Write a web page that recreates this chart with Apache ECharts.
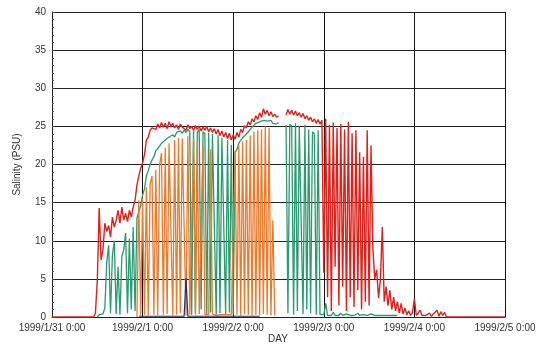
<!DOCTYPE html>
<html>
<head>
  <meta charset="utf-8">
  <title>salinity</title>
  <script src="https://cdn.jsdelivr.net/npm/echarts@6/dist/echarts.min.js"></script>
</head>
<body style="margin: 0">
<div id="main" style="width: 539px; height: 345px"></div>

<script type="text/javascript">
  // hours from 1999/1/31 0:00, one sample every half hour
  var STEP = 0.5;
  var dayLabels = ['1999/1/31 0:00', '1999/2/1 0:00', '1999/2/2 0:00', '1999/2/3 0:00', '1999/2/4 0:00', '1999/2/5 0:00'];

  var redStart = 0;
  var redValues = [
    0,0,0,0,0,0,0,0,0,0,0,0,0,0,0,0,0,0,0,0,0,0,0,0.5,4.8,
    14.3,7.5,8.8,12.3,11.2,12,10.5,13.1,11.8,12.7,14,12.3,14.4,12.7,13.6,12.5,14,13.1,14.4,15.3,
    17.3,18.5,19.5,20.2,21.3,23.2,23.6,24.5,24.8,25,24.6,25.3,24.8,25.5,24.9,25.4,24.7,25.6,25,
    25.4,24.8,25.2,24.6,25.3,24.9,25.1,24.5,25.2,24.7,25,24.5,25.1,24.6,25,24.4,24.9,24.5,25,
    24.3,24.8,24.2,24.7,24,24.6,23.8,24.4,23.6,24.2,23.4,24.1,23.2,23.9,23.3,24.2,23.6,24.6,
    24.2,25.1,24.8,25.6,25.2,26,25.6,26.4,25.9,26.8,26.2,27.3,26.6,27.1,26.4,26.9,26.3,26.6,
    26.2,26.4,null,null,null,26.5,27.2,26.6,27.1,26.5,27,26.4,26.8,26.2,26.7,26,26.4,25.8,26.2,
    25.6,26,25.4,25.9,25.3,
    25.8,5.8,26,2.6,25.2,0.8,25.5,6.6,24.8,1.5,25.3,4,24.6,0.8,25.6,2.6,24.1,1.3,24.5,3.5,21.6,
    1,21,2,24.5,1.5,22.5,
    9,5,6.2,2.5,5,11.8,2,4,1.5,3.5,1,2.6,0.8,2,0.5,1.8,0.4,1.2,0.3,0.8,0.2,0.6,2.4,0.2,0.5,0.9,
    0.2,0.4,0.2,0.3,0.5,0.1,0.4,0.2,0.9,0.1,0.7,0.2,0.6,
    0,0,0,0,0,0,0,0,0,0,0,0,0,0,0,0,0,0,0,0,0,0,0,0,0,0,0,0,0,0,0,0
  ];

  var greenStart = 24;
  var greenValues = [
    0,0.3,0.5,0.4,1.2,7.2,9.4,0.5,8.1,10,0.4,6.6,0.3,7.9,8.8,11,0.5,10.3,1,11.8,0.8,
    13,13.8,14.6,16,16.8,18.5,19.2,20,20.6,21,21.8,22,22.4,22.8,22.6,23.2,23,23.6,23.4,23.9,
    23.6,24.2,24,24.4,24.1,24.5,24.2,24.6,24.3,0.3,24.5,0.5,24.2,24.6,1,24.3,24,0.4,24.2,0.6,
    24,23.8,0.3,23.9,0.5,23.5,23.7,0.4,23.2,0.6,22.6,0.3,21.5,22,22.8,23.2,23.5,23.6,24,24.3,
    24.5,24.9,25.1,25.4,25.2,25.6,25.4,25.8,25.6,25.7,25.5,25.8,25.4,25.6,25.3,25.5,
    null,null,null,
    25.2,0.5,25.3,25,0.3,25.4,0.8,25,24.8,0.4,25.2,1,24.6,0.5,24.3,24,0.3,24.5,0.3,
    0.5,0.3,1.8,0.2,0.3,0.2,0.6,0.2,0.3,0.2,0.5,0.2,0.2,0.4,0.2,0.2,0.3,0.2,0.2,0.5,0.2,0.2,
    0.3,0.2,0.2,0.2,0.4,0.2,0.2,0.2,0.2,0.3,0.2,0.2,0.2,0.2,0.2,0.2,0.2,0.2,0.2
  ];

  var orangeStart = 45;
  var orangeValues = [
    0,15.3,0.2,15.5,0.3,17,0.2,17.5,18.5,0.3,19.3,0.2,20,21.5,0.3,22.2,0.4,22.8,23,0.2,23.2,
    0.3,23.5,0.5,23.4,23.6,0.2,23.7,0.3,0.2,23.5,0.3,23,0.4,0.3,22.5,0.3,0.2,0.3,22,0.4,0.3,
    0.2,0.3,0.3,0.4,0.3,0.2,0.3,0.2,0.3,0.2,21.8,0.3,22.5,0.2,23,0.4,23.2,0.3,23.8,0.2,24.3,
    0.3,24.5,0.2,24.6,0.4,25,0.3,24.8,0.2,12.7,0.2
  ];

  var blueStart = 46;
  var blueValues = [
    0.1,0.1,0.1,0.1,0.1,0.1,0.1,0.1,0.1,0.1,0.1,0.1,0.1,0.1,0.1,0.1,0.1,0.1,0.1,0.1,0.1,0.1,
    0.1,0.1,0.1,5.1,0.1,0.1,0.1,0.1,0.1,0.1,0.1,0.1,0.1,0.1,0.1,0.1,0.1,0.1,0.1,0.1,0.1,0.1,
    0.1,0.1,0.1,0.1,0.1,0.1,0.1,0.1,0.1,0.1,0.1,0.1,0.1,0.1,0.1,0.1,0.1,0.1,0.1,0.1,0.1
  ];

  function toPairs(start, values) {
    return values.map(function (v, k) {
      return [(start + k) * STEP, v];
    });
  }

  function lineSeries(name, color, start, values, width) {
    return {
      name: name,
      type: 'line',
      data: toPairs(start, values),
      showSymbol: false,
      connectNulls: false,
      animation: false,
      lineStyle: {color: color, width: width},
      itemStyle: {color: color}
    };
  }

  var chart = echarts.init(document.getElementById('main'));
  chart.setOption({
    animation: false,
    grid: {left: 52, right: 34, top: 12, bottom: 28, outerBoundsMode: 'none'},
    // x axis title drawn as plain text just under the tick labels
    graphic: [{
      type: 'text',
      left: 268,
      top: 334,
      style: {text: 'DAY', fontFamily: 'Liberation Sans', fontSize: 10, fill: '#333'}
    }],
    xAxis: {
      type: 'value',
      min: 0,
      max: 120,
      interval: 24,
      axisLine: {lineStyle: {color: '#222'}},
      axisTick: {show: false},
      axisLabel: {
        margin: 6,
        fontFamily: 'Liberation Sans',
        fontSize: 10,
        color: '#333',
        formatter: function (v) { return dayLabels[Math.round(v / 24)]; }
      },
      splitLine: {lineStyle: {color: '#111', width: 1}}
    },
    yAxis: {
      type: 'value',
      min: 0,
      max: 40,
      interval: 5,
      name: 'Salinity (PSU)',
      nameLocation: 'middle',
      nameGap: 30,
      nameTextStyle: {fontFamily: 'Liberation Sans', fontSize: 10, color: '#333'},
      axisLine: {show: true, lineStyle: {color: '#222'}},
      axisTick: {show: true, inside: true, length: 3, lineStyle: {color: '#444'}},
      minorTick: {show: true, splitNumber: 5, length: 2, lineStyle: {color: '#666'}},
      axisLabel: {margin: 6, fontFamily: 'Liberation Sans', fontSize: 10, color: '#333'},
      splitLine: {lineStyle: {color: '#222', width: 1}}
    },
    series: [
      lineSeries('green', '#2a9a70', greenStart, greenValues, 1.3),
      lineSeries('orange', '#ec7a2c', orangeStart, orangeValues, 1.3),
      lineSeries('blue', '#1f2a78', blueStart, blueValues, 1.2),
      lineSeries('red', '#e0201a', redStart, redValues, 1.4)
    ]
  });
</script>
</body>
</html>
